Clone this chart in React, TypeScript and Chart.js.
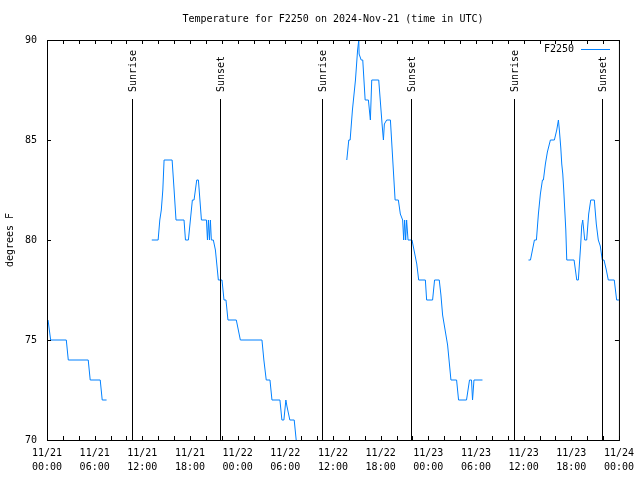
import { useEffect, useRef } from 'react';
import { Chart, registerables } from 'chart.js';

Chart.register(...registerables);

const TITLE = 'Temperature for F2250 on 2024-Nov-21 (time in UTC)';
const SERIES_LABEL = 'F2250';
const Y_LABEL = 'degrees F';
const DAY_LABELS = ['11/21', '11/22', '11/23', '11/24'];
const TIME_LABELS = ['00:00', '06:00', '12:00', '18:00'];
const Y_TICKS = [70, 75, 80, 85, 90];

// hours since 2024-11-21 00:00 UTC
const SEG1_HOURS = [0.13, 0.46, 2.43, 2.68, 5.19, 5.44, 6.7, 6.95, 7.5];
const SEG1_TEMPS = [76, 75, 75, 74, 74, 73, 73, 72, 72];

const SEG2_HOURS = [13.19, 13.99, 14.2, 14.39, 14.58, 14.74, 15.75, 16.0, 16.24, 17.25, 17.43, 17.8, 18.3, 18.51, 18.85, 19.06, 19.44, 20.07, 20.2, 20.32, 20.45, 20.57, 20.69, 20.94, 21.2, 21.57, 22.03, 22.28, 22.53, 22.78, 23.83, 24.34, 27.06, 27.3, 27.6, 28.07, 28.32, 29.32, 29.57, 29.82, 30.07, 30.2, 30.57, 31.12, 31.37, 31.5];
const SEG2_TEMPS = [80, 80, 81, 81.5, 82.5, 84, 84, 82.5, 81, 81, 80, 80, 82, 82, 83, 83, 81, 81, 80, 81, 80, 81, 80, 80, 79.5, 78, 78, 77, 77, 76, 76, 75, 75, 74, 73, 73, 72, 72, 71, 71, 72, 71.7, 71, 71, 70, 69.6];

const SEG3_HOURS = [37.74, 37.99, 38.16, 38.45, 38.83, 39.1, 39.25, 39.29, 39.55, 39.75, 40.05, 40.46, 40.71, 40.88, 41.76, 42.18, 42.35, 42.47, 42.76, 43.23, 43.82, 44.23, 44.48, 44.77, 44.9, 45.02, 45.15, 45.27, 45.45, 45.95, 46.3, 46.55, 46.79, 47.63, 47.79, 48.54, 48.79, 49.38, 49.59, 49.8, 50.22, 50.43, 50.73, 50.85, 51.56, 51.81, 52.81, 53.19, 53.44, 53.57, 53.75, 54.82];
const SEG3_TEMPS = [84, 85, 85, 86.5, 88, 89.5, 90, 89.3, 89, 89, 87, 87, 86, 88, 88, 85.8, 85, 85.8, 86, 86, 82, 82, 81.3, 81, 80, 81, 80, 81, 80, 80, 79.3, 78.8, 78, 78, 77, 77, 78, 78, 77.25, 76.25, 75.25, 74.75, 73.5, 73, 73, 72, 72, 73, 73, 72, 73, 73];

const SEG4_HOURS = [60.61, 60.86, 61.36, 61.61, 61.86, 62.11, 62.37, 62.49, 62.74, 62.99, 63.37, 63.87, 64.17, 64.38, 64.5, 64.68, 64.8, 64.93, 65.05, 65.18, 65.31, 65.43, 66.35, 66.69, 66.89, 67.19, 67.31, 67.44, 67.57, 67.69, 67.94, 68.19, 68.45, 68.9, 69.15, 69.4, 69.65, 69.9, 70.12, 70.41, 70.66, 71.41, 71.71, 72.0];
const SEG4_TEMPS = [79, 79, 80, 80, 81.3, 82.3, 83, 83, 83.8, 84.4, 85, 85, 85.5, 86, 85.5, 84.6, 83.8, 83.3, 82.5, 81.5, 80.5, 79, 79, 78, 78, 79.8, 80.7, 81, 80.5, 80, 80, 81.3, 82, 82, 80.8, 80, 79.7, 79, 79, 78.5, 78, 78, 77, 77];

const SUNRISE_HOURS = [10.64, 34.66, 58.81];
const SUNSET_HOURS = [21.78, 45.78, 69.91];

const LINE_COLOR = '#0080ff';
const FONT_FAMILY = "'DejaVu Sans Mono', 'Liberation Mono', monospace";

function buildPoints() {
  const segs: [number[], number[]][] = [
    [SEG1_HOURS, SEG1_TEMPS],
    [SEG2_HOURS, SEG2_TEMPS],
    [SEG3_HOURS, SEG3_TEMPS],
    [SEG4_HOURS, SEG4_TEMPS],
  ];
  const pts: { x: number; y: number | null }[] = [];
  segs.forEach(([hs, ts], i) => {
    if (i > 0) pts.push({ x: (hs[0] + pts[pts.length - 1].x) / 2, y: null });
    hs.forEach((h, j) => pts.push({ x: h, y: ts[j] }));
  });
  return pts;
}

const overlayPlugin = {
  id: 'overlay',
  afterDraw(chart: any) {
    const { ctx, chartArea: a, scales } = chart;
    const xs = scales.x;
    const ys = scales.y;
    ctx.save();
    ctx.strokeStyle = '#000';
    ctx.lineWidth = 1;
    // frame
    ctx.strokeRect(a.left + 0.5, a.top + 0.5, a.right - a.left, a.bottom - a.top);
    // x ticks (inward, top and bottom)
    ctx.beginPath();
    for (let h = 0; h <= 72; h += 2) {
      const x = Math.round(xs.getPixelForValue(h)) + 0.5;
      ctx.moveTo(x, a.bottom);
      ctx.lineTo(x, a.bottom - 4);
      ctx.moveTo(x, a.top);
      ctx.lineTo(x, a.top + 4);
    }
    for (const v of Y_TICKS) {
      const y = Math.round(ys.getPixelForValue(v)) + 0.5;
      ctx.moveTo(a.left, y);
      ctx.lineTo(a.left + 4, y);
      ctx.moveTo(a.right, y);
      ctx.lineTo(a.right - 4, y);
    }
    ctx.stroke();

    // sunrise / sunset markers
    const font = `10px ${FONT_FAMILY}`;
    ctx.font = font;
    ctx.fillStyle = '#000';
    const marks: [number, string][] = [
      ...SUNRISE_HOURS.map((h) => [h, 'Sunrise'] as [number, string]),
      ...SUNSET_HOURS.map((h) => [h, 'Sunset'] as [number, string]),
    ];
    for (const [h, label] of marks) {
      const x = Math.round(xs.getPixelForValue(h)) + 0.5;
      ctx.beginPath();
      ctx.moveTo(x, 99);
      ctx.lineTo(x, a.bottom);
      ctx.stroke();
      ctx.save();
      ctx.translate(x + 1, 92);
      ctx.rotate(-Math.PI / 2);
      ctx.textAlign = 'left';
      ctx.textBaseline = 'middle';
      ctx.fillText(label, 0, 0);
      ctx.restore();
    }

    // title
    ctx.textAlign = 'center';
    ctx.textBaseline = 'middle';
    ctx.fillText(TITLE, (a.left + a.right) / 2, 19);

    // legend
    const ds = chart.data.datasets[0];
    ctx.textAlign = 'right';
    ctx.fillText(ds.label, 574, 49);
    ctx.strokeStyle = ds.borderColor;
    ctx.beginPath();
    ctx.moveTo(581, 49.5);
    ctx.lineTo(610, 49.5);
    ctx.stroke();
    ctx.restore();
  },
};

export default function App() {
  const ref = useRef<HTMLCanvasElement | null>(null);
  useEffect(() => {
    if (!ref.current) return;
    const tickFont = { family: FONT_FAMILY, size: 10, lineHeight: 1.4 };
    const chart = new Chart(ref.current, {
      type: 'line',
      data: {
        datasets: [
          {
            label: SERIES_LABEL,
            data: buildPoints() as any,
            borderColor: LINE_COLOR,
            borderWidth: 1,
            pointRadius: 0,
            tension: 0,
            spanGaps: false,
            fill: false,
          },
        ],
      },
      options: {
        responsive: false,
        animation: false,
        devicePixelRatio: 1,
        layout: { padding: { top: 40, right: 20, left: 0, bottom: 0 } },
        plugins: {
          legend: { display: false },
          title: { display: false },
          tooltip: { enabled: false },
        },
        scales: {
          x: {
            type: 'linear',
            min: 0,
            max: 72,
            grid: { display: false, drawTicks: false },
            border: { display: false },
            ticks: {
              stepSize: 2,
              autoSkip: false,
              maxRotation: 0,
              minRotation: 0,
              color: '#000',
              font: tickFont,
              padding: 6,
              callback: (v: any) => {
                const n = Number(v);
                if (n % 6 !== 0) return '';
                const day = Math.floor(n / 24);
                return [DAY_LABELS[day], TIME_LABELS[(n % 24) / 6]];
              },
            },
            afterFit: (s: any) => {
              s.height = 40;
            },
          },
          y: {
            min: 70,
            max: 90,
            grid: { display: false, drawTicks: false },
            border: { display: false },
            ticks: {
              stepSize: 5,
              color: '#000',
              font: { family: FONT_FAMILY, size: 10 },
              padding: 10,
            },
            title: {
              display: true,
              text: Y_LABEL,
              color: '#000',
              font: { family: FONT_FAMILY, size: 10, lineHeight: 1.2 },
              padding: { top: 4, bottom: 0 },
            },
            afterFit: (s: any) => {
              s.width = 47;
            },
          },
        },
      },
      plugins: [overlayPlugin],
    });
    return () => chart.destroy();
  }, []);
  return (
    <div style={{ position: 'absolute', left: 0, top: 0, width: 640, height: 480, background: '#fff' }}>
      <canvas ref={ref} width={640} height={480} style={{ display: 'block' }} />
    </div>
  );
}
